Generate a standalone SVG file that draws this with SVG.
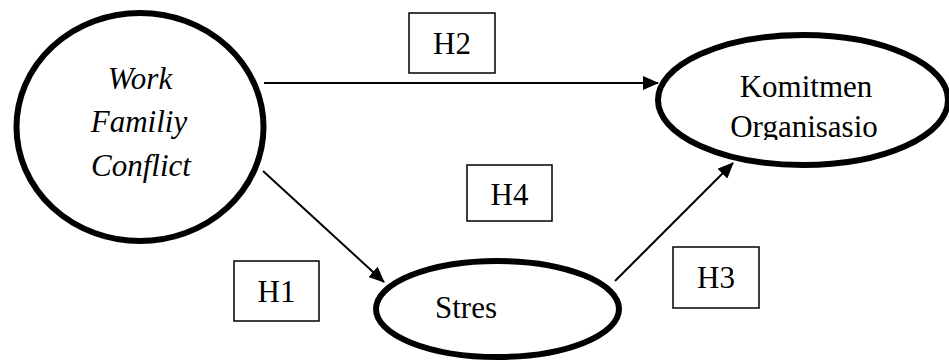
<svg xmlns="http://www.w3.org/2000/svg" width="949" height="362" viewBox="0 0 949 362">
<style>
.node{fill:#fff;stroke:#000;stroke-width:6}
.box{fill:#fff;stroke:#000;stroke-width:1.5}
.t{font-family:"Liberation Serif","Times New Roman",serif;font-size:31px;fill:#000}
.i{font-style:italic}
.c{stroke:#000;stroke-width:2;fill:none;marker-end:url(#ah)}
</style>
<defs>
<marker id="ah" viewBox="0 0 16 14" refX="15" refY="7" markerWidth="16" markerHeight="14" markerUnits="userSpaceOnUse" orient="auto">
<path d="M0,0 L16,7 L0,14 z" fill="#000"/>
</marker>
<clipPath id="kclip"><rect x="655" y="40" width="294" height="100"/></clipPath>
</defs>
<rect width="949" height="362" fill="#fff"/>
<g id="connectors">
<line class="c" x1="264" y1="83" x2="658" y2="83"/>
<line class="c" x1="263" y1="171" x2="384" y2="282"/>
<line class="c" x1="615" y1="281" x2="733" y2="163"/>
</g>
<g id="wfc">
<ellipse class="node" cx="140" cy="127" rx="123.5" ry="114"/>
<text class="t i" x="140" y="89" text-anchor="middle">Work</text>
<text class="t i" x="139" y="132" text-anchor="middle">Familiy</text>
<text class="t i" x="141" y="176" text-anchor="middle">Conflict</text>
</g>
<g id="komitmen">
<ellipse class="node" cx="803" cy="100" rx="145" ry="65"/>
<text class="t" x="806" y="97" text-anchor="middle">Komitmen</text>
<text class="t" x="804" y="137" text-anchor="middle" clip-path="url(#kclip)">Organisasio</text>
</g>
<g id="stres">
<ellipse class="node" cx="497.5" cy="309" rx="121.5" ry="48"/>
<text class="t" x="435" y="318">Stres</text>
</g>
<g id="h2"><rect class="box" x="409" y="13" width="86" height="60"/><text class="t" x="452" y="54" text-anchor="middle">H2</text></g>
<g id="h4"><rect class="box" x="467" y="165" width="85" height="56"/><text class="t" x="509.5" y="205" text-anchor="middle">H4</text></g>
<g id="h1"><rect class="box" x="234" y="261" width="85" height="60"/><text class="t" x="276.5" y="302" text-anchor="middle">H1</text></g>
<g id="h3"><rect class="box" x="673" y="247" width="86" height="61"/><text class="t" x="716" y="288" text-anchor="middle">H3</text></g>
</svg>
